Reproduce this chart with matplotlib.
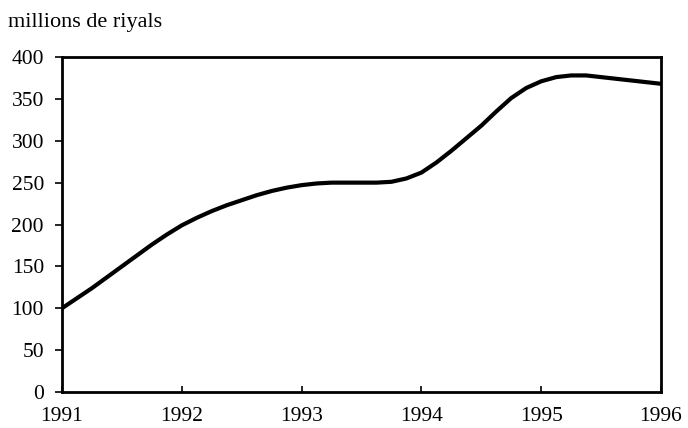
import matplotlib
matplotlib.use("Agg")
import matplotlib.pyplot as plt

# values (millions de riyals), every eighth of a year
years = [1991 + i / 8 for i in range(41)]
values = [100, 112, 124, 137, 150, 163, 176, 188,
          199, 208, 216, 223, 229, 235, 240, 244,
          247, 249, 250, 250, 250, 250, 251, 255,
          262, 274, 288, 303, 318, 335, 351, 363,
          371, 376, 378, 378, 376, 374, 372, 370,
          368]

x_ticks = [1991, 1992, 1993, 1994, 1995, 1996]
y_ticks = [0, 50, 100, 150, 200, 250, 300, 350, 400]

plt.rcParams['font.family'] = ['Liberation Serif', 'DejaVu Serif']

fig = plt.figure(figsize=(6.88, 4.28), dpi=100)
ax = fig.add_axes([0.0901, 0.0841, 0.8707, 0.7827])

ax.plot(years, values, color='black', linewidth=3, solid_capstyle='round',
        solid_joinstyle='round')

ax.set_xlim(1991, 1996)
ax.set_ylim(0, 400)
ax.set_xticks(x_ticks)
ax.set_yticks(y_ticks)
ax.set_xticklabels([str(y) for y in x_ticks])

for s in ax.spines.values():
    s.set_linewidth(2)
    s.set_color('black')

ax.tick_params(axis='y', direction='out', length=5, width=1.2, pad=8, labelsize=15.5)
ax.tick_params(axis='x', direction='in', length=4, width=1.2, pad=11, labelsize=15.5)

fig.text(0.012, 0.947, 'millions de riyals', fontsize=16, ha='left', va='center')

fig.savefig('out.png', dpi=100)
